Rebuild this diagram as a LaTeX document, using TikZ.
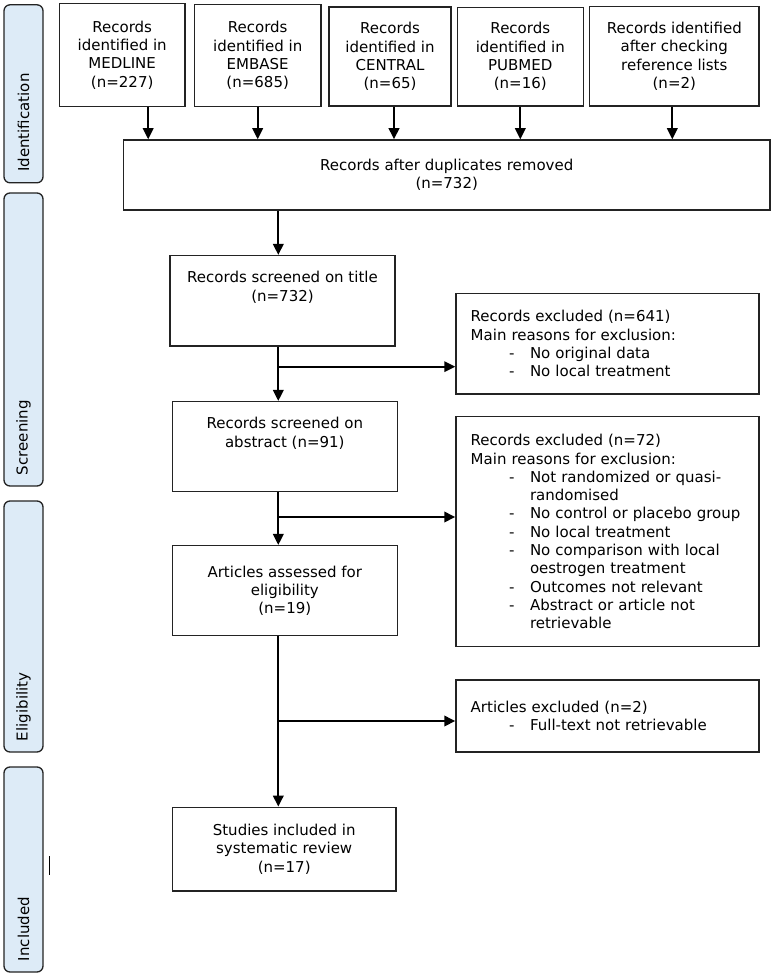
\documentclass[tikz,border=0pt]{standalone}
\usepackage{fontspec}
\setmainfont{DejaVu Sans}
\usepackage{tikz}
\usetikzlibrary{arrows.meta, positioning}
\definecolor{boxline}{RGB}{35,35,35}
\definecolor{phasefill}{RGB}{221,235,247}
\newcommand{\flowfont}{\fontsize{15pt}{18.3pt}\selectfont}
\newcommand{\reason}[1]{\mbox{\hspace*{38.3pt}\makebox[21pt][l]{-}#1}}
\newcommand{\reasonmore}[1]{\mbox{\hspace*{59.3pt}#1}}
\tikzset{
  block/.style={rectangle, draw=boxline, fill=white, align=center,
    font=\flowfont, line width=1.5pt, inner sep=2pt},
  exblock/.style={rectangle, draw=boxline, fill=white, align=left,
    text width=273.6pt, inner xsep=14.7pt, font=\flowfont, line width=1.5pt},
  phase/.style={rectangle, draw=boxline, fill=phasefill, rounded corners=6pt,
    rotate=90, minimum height=39pt, inner xsep=11pt, align=left,
    font=\flowfont, line width=1.3pt},
  arrow/.style={-{Triangle[length=11pt, width=10.5pt]}, line width=2pt, color=black},
  line/.style={line width=2pt, color=black}
}

\begin{document}
\begin{tikzpicture}[x=1pt, y=-1pt]
  \useasboundingbox (0,0) rectangle (771,976);

  % Phase bars on the left
  \node[phase, text width=156pt] (idf) at (23.5,93.8) {Identification};
  \node[phase, text width=271pt] (scr) at (23.5,339.5) {Screening};
  \node[phase, text width=229pt] (elg) at (23.5,626.5) {Eligibility};
  \node[phase, text width=183pt] (inc) at (23.5,869.5) {Included};
  \draw[line width=1pt] (49,856) -- (49,875);

  % Sources
  \node[block, minimum width=125.7pt, minimum height=103.4pt] (med) at (122.2,55)
    {Records\\identified in\\MEDLINE\\(n=227)};
  \node[block, minimum width=126.7pt, minimum height=102pt] (emb) at (257.7,55.7)
    {Records\\identified in\\EMBASE\\(n=685)};
  \node[block, minimum width=122pt, minimum height=99pt] (cen) at (390,56.5)
    {Records\\identified in\\CENTRAL\\(n=65)};
  \node[block, minimum width=126pt, minimum height=98.7pt] (pub) at (520.3,56.7)
    {Records\\identified in\\PUBMED\\(n=16)};
  \node[block, minimum width=169.3pt, minimum height=99.3pt] (ref) at (674.3,56.3)
    {Records identified\\after checking\\reference lists\\(n=2)};

  % Main flow
  \node[block, minimum width=646.7pt, minimum height=70pt] (dup) at (446.7,175)
    {Records after duplicates removed\\(n=732)};
  \node[block, minimum width=225pt, minimum height=90.3pt] (title) at (282.5,300.8)
    {Records screened on title\\(n=732)\\[5pt]\strut};
  \node[block, minimum width=225pt, minimum height=90pt] (abs) at (284.8,446.7)
    {Records screened on\\abstract (n=91)\\[5pt]\strut};
  \node[block, minimum width=225pt, minimum height=90pt] (elig) at (284.8,590.7)
    {Articles assessed for\\eligibility\\(n=19)};
  \node[block, minimum width=223.7pt, minimum height=83.7pt] (incl) at (284.2,849.2)
    {Studies included in\\systematic review\\(n=17)};

  % Exclusions
  \node[exblock, minimum height=100.7pt] (exA) at (607.5,343.7)
    {Records excluded (n=641)\\Main reasons for exclusion:\\
     \reason{No original data}\\\reason{No local treatment}};
  \node[exblock, minimum height=230pt] (exB) at (607.5,531.7)
    {Records excluded (n=72)\\Main reasons for exclusion:\\
     \reason{Not randomized or quasi-}\\\reasonmore{randomised}\\
     \reason{No control or placebo group}\\\reason{No local treatment}\\
     \reason{No comparison with local}\\\reasonmore{oestrogen treatment}\\
     \reason{Outcomes not relevant}\\\reason{Abstract or article not}\\
     \reasonmore{retrievable}};
  \node[exblock, minimum height=72pt] (exC) at (607.5,716)
    {Articles excluded (n=2)\\\reason{Full-text not retrievable}};

  % Connectors
  \coordinate (spine) at (278.3,0);
  \foreach \src/\dx in {med/26, emb/0, cen/4, pub/0, ref/-2}
    \draw[arrow] ([xshift=\dx pt]\src.south) -- ([xshift=\dx pt]\src.south |- dup.north);
  \draw[arrow] (dup.south -| spine) -- (title.north -| spine);
  \draw[arrow] (title.south -| spine) -- (abs.north -| spine);
  \draw[arrow] (abs.south -| spine) -- (elig.north -| spine);
  \draw[arrow] (elig.south -| spine) -- (incl.north -| spine);

  \coordinate (brA) at ([yshift=-23pt]exA.west);
  \coordinate (brB) at ([yshift=14.7pt]exB.west);
  \coordinate (brC) at ([yshift=-5pt]exC.west);
  \draw[arrow] (brA -| spine) -- (brA);
  \draw[arrow] (brB -| spine) -- (brB);
  \draw[arrow] (brC -| spine) -- (brC);
\end{tikzpicture}
\end{document}
